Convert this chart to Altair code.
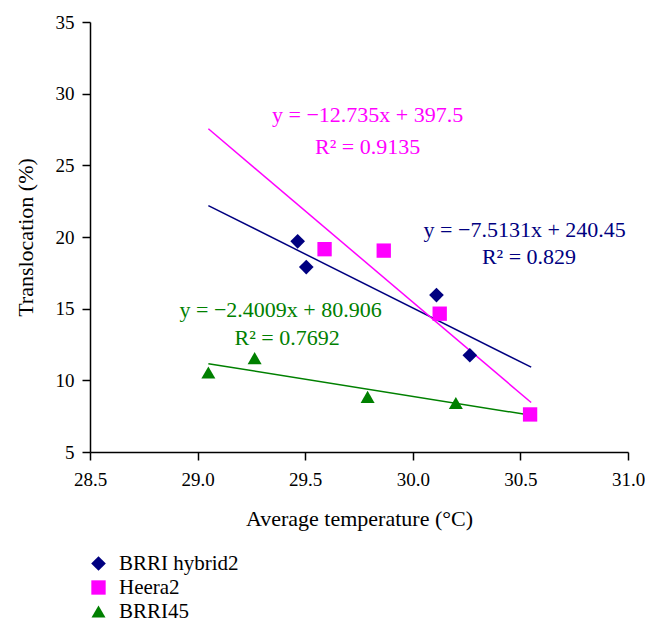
import altair as alt
import pandas as pd

# ---- data ----
series = ["BRRI hybrid2", "Heera2", "BRRI45"]
colors = ["#000080", "#ff00ff", "#008000"]
shapes = ["diamond", "square", "triangle-up"]
sizes = [215, 196, 235]

hyb_x = [29.465, 29.505, 30.11, 30.265]
hyb_y = [19.7, 17.9, 15.95, 11.75]
hee_x = [29.59, 29.865, 30.125, 30.545]
hee_y = [19.15, 19.05, 14.65, 7.62]
b45_x = [29.05, 29.265, 29.79, 30.2]
b45_y = [10.55, 11.55, 8.85, 8.42]

# trend lines (endpoints)
trend_x0 = [29.05, 29.05, 29.05]
trend_x1 = [30.55, 30.55, 30.55]
trend_y0 = [22.19, 27.55, 11.16]
trend_y1 = [10.92, 8.45, 7.56]

# equation annotations (one pair per series)
ann_eq = ["y = −7.5131x + 240.45", "y = −12.735x + 397.5", "y = −2.4009x + 80.906"]
ann_r2 = ["R² = 0.829", "R² = 0.9135", "R² = 0.7692"]
ann_eq_x = [30.52, 29.79, 29.386]
ann_eq_y = [20.48, 28.5, 14.9]
ann_r2_x = [30.54, 29.79, 29.416]
ann_r2_y = [18.6, 26.3, 12.95]

x_ticks = [28.5, 29.0, 29.5, 30.0, 30.5, 31.0]
y_ticks = [5, 10, 15, 20, 25, 30, 35]

# ---- tables ----
pts = pd.DataFrame({
    "x": hyb_x + hee_x + b45_x,
    "y": hyb_y + hee_y + b45_y,
    "series": [series[0]] * 4 + [series[1]] * 4 + [series[2]] * 4,
})

FONT = "Liberation Serif"

xscale = alt.Scale(domain=[28.5, 31.0], nice=False, zero=False)
yscale = alt.Scale(domain=[5, 35], nice=False, zero=False)

xaxis = alt.Axis(values=x_ticks, format=".1f", grid=False, tickSize=8, labelPadding=10,
                 titlePadding=19, labelFlush=False)
yaxis = alt.Axis(values=y_ticks, grid=False, tickSize=8, labelPadding=8,
                 titlePadding=18, labelFlush=False)
XT = "Average temperature (°C)"
YT = "Translocation (%)"


def xy():
    return dict(x=alt.X("x:Q", scale=xscale, axis=xaxis, title=XT),
                y=alt.Y("y:Q", scale=yscale, axis=yaxis, title=YT))


layers = []
for i, s in enumerate(series):
    df = pd.DataFrame({"x": [trend_x0[i], trend_x1[i]], "y": [trend_y0[i], trend_y1[i]]})
    layers.append(alt.Chart(df).mark_line(strokeWidth=1.5, color=colors[i]).encode(**xy()))

leg = alt.Legend(title=None, orient="none", legendX=-2, legendY=531,
                 labelFont=FONT, labelFontSize=21, labelColor="black",
                 symbolSize=270, symbolStrokeWidth=0, rowPadding=2,
                 labelOffset=10, padding=0)

point_layer = alt.Chart(pts).mark_point(filled=True, opacity=1).encode(
    **xy(),
    color=alt.Color("series:N", scale=alt.Scale(domain=series, range=colors), legend=leg),
    shape=alt.Shape("series:N", scale=alt.Scale(domain=series, range=shapes), legend=leg),
    size=alt.Size("series:N", scale=alt.Scale(domain=series, range=sizes), legend=None),
)
layers.append(point_layer)

for i, s in enumerate(series):
    df = pd.DataFrame({"text": [ann_eq[i], ann_r2[i]],
                       "x": [ann_eq_x[i], ann_r2_x[i]],
                       "y": [ann_eq_y[i], ann_r2_y[i]]})
    layers.append(alt.Chart(df).mark_text(font=FONT, fontSize=22, align="center",
                                          baseline="middle", color=colors[i]).encode(
        **xy(), text="text:N",
    ))

chart = alt.layer(*layers).properties(
    width=538, height=430,
    autosize=alt.AutoSizeParams(type="none"),
    padding={"left": 82, "top": 14, "right": 17, "bottom": 175},
    background="white",
).configure_view(stroke=None).configure_axis(
    labelFont=FONT, labelFontSize=19, labelColor="black",
    titleFont=FONT, titleFontSize=22, titleFontWeight="normal", titleColor="black",
    domainColor="black", tickColor="black", domainWidth=1.5, tickWidth=1.5,
)

chart.save("out.html", embed_options={"renderer": "svg", "actions": False})
